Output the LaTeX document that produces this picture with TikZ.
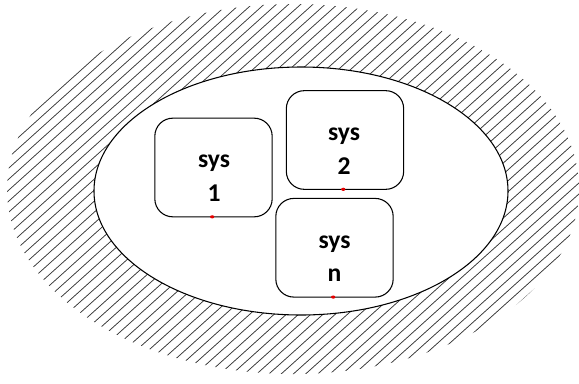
\documentclass[tikz,border=0pt]{standalone}
\usepackage{fontspec}
\setmainfont{Carlito}
\usetikzlibrary{shapes.geometric}
\begin{document}
\begin{tikzpicture}[x=0.75pt,y=-0.75pt,
  sysbox/.style={draw=black, line width=0.8pt, rounded corners=13.5pt,
    minimum width=88pt, minimum height=74pt, inner sep=0pt, outer sep=0pt, fill=white},
  lbl/.style={font=\bfseries\fontsize{19.2}{22}\selectfont, inner sep=0pt, text=black},
  reddot/.style={fill=red!90!black, ellipse, minimum width=3.2pt, minimum height=2.4pt, inner sep=0pt},
  hatch/.style={line width=0.55pt, draw=black!80},
  envelope/.style={draw=black, line width=0.8pt, fill=white, ellipse, inner sep=0pt,
    minimum width=310.5pt, minimum height=186pt}]
\useasboundingbox (0,0) rectangle (579,383);
% hatched outer ring
\begin{scope}
  \clip (293,189) ellipse [x radius=286, y radius=185];
  \foreach \c in {0,11,...,935} {
    \draw[hatch] (-10,\c+9) -- (600,\c-540);
  }
\end{scope}
% inner ellipse
\node[envelope] (env) at (301,191) {};
% boxes
\node[sysbox] (b1) at (213.5,167.5) {};
\node[sysbox] (b2) at (345,140) {};
\node[sysbox] (bn) at (334.5,247.75) {};
% labels
\node[lbl, anchor=base] (b1a) at ([xshift=0.4pt]b1.center) {sys};
\node[lbl, anchor=base] (b1b) at ([xshift=0.4pt,yshift=-25.5pt]b1.center) {1};
\node[lbl, anchor=base] (b2a) at ([xshift=-0.7pt]b2.center) {sys};
\node[lbl, anchor=base] (b2b) at ([xshift=-0.7pt,yshift=-25.5pt]b2.center) {2};
\node[lbl, anchor=base] (bna) at ([yshift=-0.2pt]bn.center) {sys};
\node[lbl, anchor=base] (bnb) at ([yshift=-25.4pt]bn.center) {n};
% red marks
\node[reddot] (r1) at ([xshift=-1pt]b1.south) {};
\node[reddot] (r2) at ([xshift=-1.3pt]b2.south) {};
\node[reddot] (rn) at ([xshift=-1pt]bn.south) {};
\end{tikzpicture}
\end{document}
